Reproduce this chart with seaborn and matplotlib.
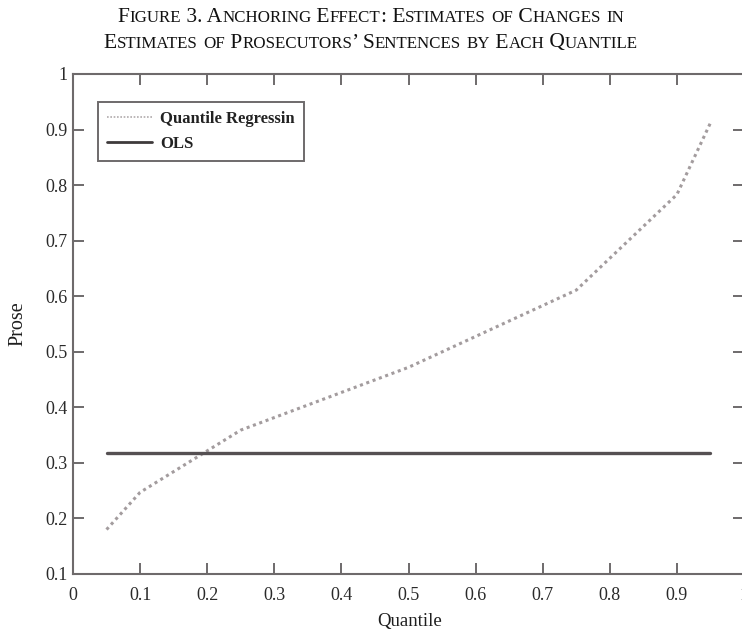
import numpy as np
import pandas as pd
import matplotlib
matplotlib.use("Agg")
import matplotlib.pyplot as plt
import seaborn as sns
from matplotlib.lines import Line2D
from matplotlib.offsetbox import TextArea, HPacker, AnchoredOffsetbox

# values
quantiles = [0.05, 0.10, 0.25, 0.50, 0.75, 0.90, 0.95]
qr_estimates = [0.180, 0.247, 0.359, 0.472, 0.611, 0.783, 0.912]
ols_estimates = [0.318, 0.318, 0.318, 0.318, 0.318, 0.318, 0.318]

x_ticks = [0, 0.1, 0.2, 0.3, 0.4, 0.5, 0.6, 0.7, 0.8, 0.9, 1]
x_ticklabels = ["0", "0.1", "0.2", "0.3", "0.4", "0.5", "0.6", "0.7", "0.8", "0.9", "1"]
y_ticks = [0.1, 0.2, 0.3, 0.4, 0.5, 0.6, 0.7, 0.8, 0.9, 1]
y_ticklabels = ["0.1", "0.2", "0.3", "0.4", "0.5", "0.6", "0.7", "0.8", "0.9", "1"]

title_lines = [
    "Figure 3. Anchoring Effect: Estimates of Changes in",
    "Estimates of Prosecutors\u2019 Sentences by Each Quantile",
]

df = pd.DataFrame({"q": quantiles, "qr": qr_estimates, "ols": ols_estimates})

sns.set_theme(style="ticks")
plt.rcParams["font.family"] = ["Liberation Serif", "DejaVu Serif"]

fig = plt.figure(figsize=(7.42, 6.3), dpi=100)
ax = fig.add_axes([73 / 742, 1 - 574 / 630, 671 / 742, 500 / 630])

sns.lineplot(data=df, x="q", y="qr", ax=ax, color="#a39c9e", linewidth=2.2,
             linestyle=(0, (1, 1.2)))
sns.lineplot(data=df, x="q", y="ols", ax=ax, color="#555052", linewidth=2.4)

ax.set_xlim(0, 1)
ax.set_ylim(0.1, 1)
ax.set_xticks(x_ticks)
ax.set_xticklabels(x_ticklabels)
ax.set_yticks(y_ticks)
ax.set_yticklabels(y_ticklabels)
ax.tick_params(direction="in", length=8, width=1.4, color="#6e6a6b",
               top=True, right=True, labelsize=13, labelcolor="#2a2a2a")
ax.tick_params(axis="x", pad=9)
ax.tick_params(axis="y", pad=4)

for s in ax.spines.values():
    s.set_color("#6e6a6b")
    s.set_linewidth(1.5)

ax.set_xlabel("Quantile", fontsize=13.5, color="#1e1e1e")
ax.set_ylabel("Prose", fontsize=14.5, color="#1e1e1e", va="center")
ax.xaxis.set_label_coords(0.502, -0.078)
ax.yaxis.set_label_coords(-0.082, 0.5)

handles = [
    Line2D([], [], color="#b0aaac", linewidth=1.2, linestyle=(0, (1, 1))),
    Line2D([], [], color="#3e3a3b", linewidth=2.0),
]
leg = ax.legend(handles, ["Quantile Regressin", "OLS"], loc="upper left",
                bbox_to_anchor=(0.037, 0.944), borderaxespad=0, fancybox=False,
                edgecolor="#6e6a6b", framealpha=1, prop={"size": 12, "weight": "bold"},
                handlelength=2.7, handletextpad=0.5, borderpad=0.55, labelspacing=0.5)
leg.get_frame().set_linewidth(1.4)
for t in leg.get_texts():
    t.set_color("#222222")


def small_caps_line(text, big=15.5, small=12.2):
    # split into runs: lowercase letters go small and uppercased
    runs = []
    for ch in text:
        is_small = ch.islower()
        if runs and runs[-1][1] == is_small:
            runs[-1][0] += ch
        else:
            runs.append([ch, is_small])
    boxes = []
    for s, is_small in runs:
        boxes.append(TextArea(s.upper(), textprops=dict(
            fontsize=small if is_small else big, color="#111111",
            family=["Liberation Serif", "DejaVu Serif"])))
    return HPacker(children=boxes, align="baseline", pad=0, sep=0)


for i, line in enumerate(title_lines):
    box = AnchoredOffsetbox(loc="center", child=small_caps_line(line), pad=0,
                            frameon=False, bbox_to_anchor=(0.5, 1 - (18 + 25 * i) / 630),
                            bbox_transform=fig.transFigure, borderpad=0)
    fig.add_artist(box)

fig.savefig("out.png", dpi=100)
